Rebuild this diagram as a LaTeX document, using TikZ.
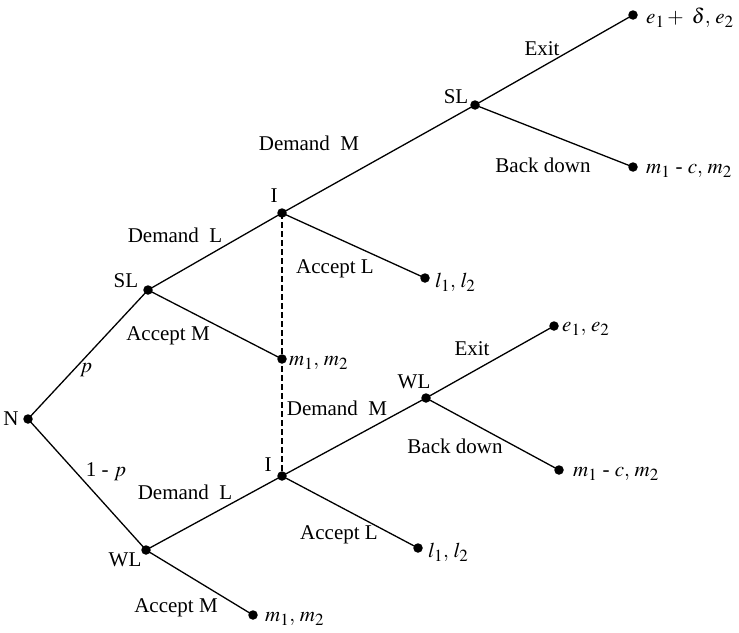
\documentclass[tikz,border=0pt]{standalone}
\usepackage{mathptmx}
\usepackage{fontspec}
\setmainfont{Liberation Serif}
\DeclareMathSizes{21}{21}{17}{14}
\begin{document}
\begin{tikzpicture}[x=1pt,y=-1pt,
  dot/.style={circle,fill=black,inner sep=0pt,minimum size=9.5pt},
  lbl/.style={font=\fontsize{21}{24}\selectfont,inner sep=1pt},
  pay/.style={font=\fontsize{21}{24}\selectfont,inner sep=1pt,anchor=west},
  edge/.style={line width=1.3pt},
  info/.style={line width=1.1pt,dashed,dash pattern=on 6pt off 3pt}]
\useasboundingbox (0,0) rectangle (739,632);
% decision nodes
\node[dot] (N) at (28,419) {};
\node[dot] (SLa) at (148,290) {};
\node[dot] (WLa) at (146,550) {};
\node[dot] (Ia) at (282,213) {};
\node[dot] (Ib) at (282,476) {};
\node[dot] (SLb) at (475,105) {};
\node[dot] (WLb) at (426,398) {};
% terminal nodes
\node[dot] (t1) at (633,15) {};
\node[dot] (t2) at (633,167) {};
\node[dot] (t3) at (425,278) {};
\node[dot] (t4) at (282,359) {};
\node[dot] (t5) at (554,326) {};
\node[dot] (t6) at (559,470) {};
\node[dot] (t7) at (418,548) {};
\node[dot] (t8) at (253,615) {};
% edges
\draw[edge] (N.center) -- (SLa.center);
\draw[edge] (N.center) -- (WLa.center);
\draw[edge] (SLa.center) -- (Ia.center);
\draw[edge] (SLa.center) -- (t4.center);
\draw[edge] (Ia.center) -- (SLb.center);
\draw[edge] (Ia.center) -- (t3.center);
\draw[edge] (SLb.center) -- (t1.center);
\draw[edge] (SLb.center) -- (t2.center);
\draw[edge] (WLa.center) -- (Ib.center);
\draw[edge] (WLa.center) -- (t8.center);
\draw[edge] (Ib.center) -- (WLb.center);
\draw[edge] (Ib.center) -- (t7.center);
\draw[edge] (WLb.center) -- (t5.center);
\draw[edge] (WLb.center) -- (t6.center);
\draw[info] (Ia.center) -- (Ib.center);
% node labels
\node[lbl] (lN) at (11,419) {N};
\node[lbl] (lSLa) at (126,281) {SL};
\node[lbl] (lWLa) at (125,560) {WL};
\node[lbl] (lIa) at (274,196) {I};
\node[lbl] (lIb) at (268,465) {I};
\node[lbl] (lSLb) at (456,97) {SL};
\node[lbl] (lWLb) at (414,382) {WL};
% edge labels
\node[lbl] (ep) at (86,370) {$p$};
\node[lbl] (e1p) at (106,472) {1 - $p$};
\node[lbl] (eDLa) at (175,235) {Demand\ \ L};
\node[lbl] (eAMa) at (168,336) {Accept M};
\node[lbl] (eALa) at (335,269) {Accept L};
\node[lbl] (eDMa) at (309,143) {Demand\ \ M};
\node[lbl] (eExa) at (542,49) {Exit};
\node[lbl] (eBDa) at (543,165) {Back down};
\node[lbl] (eDLb) at (185,492) {Demand\ \ L};
\node[lbl] (eAMb) at (176,608) {Accept M};
\node[lbl] (eALb) at (339,535) {Accept L};
\node[lbl] (eDMb) at (337,408) {Demand\ \ M};
\node[lbl] (eExb) at (472,349) {Exit};
\node[lbl] (eBDb) at (455,446) {Back down};
% payoffs
\node[pay] (p1) at (645,18) {$e_1 +\ \delta,\, e_2$};
\node[pay] (p2) at (645,171) {$m_1$ - $c,\, m_2$};
\node[pay] (p3) at (434,282) {$l_1,\, l_2$};
\node[pay] (p4) at (288,363) {$m_1,\, m_2$};
\node[pay] (p5) at (561,329) {$e_1,\, e_2$};
\node[pay] (p6) at (572,474) {$m_1$ - $c,\, m_2$};
\node[pay] (p7) at (427,552) {$l_1,\, l_2$};
\node[pay] (p8) at (264,619) {$m_1,\, m_2$};
\end{tikzpicture}
\end{document}
